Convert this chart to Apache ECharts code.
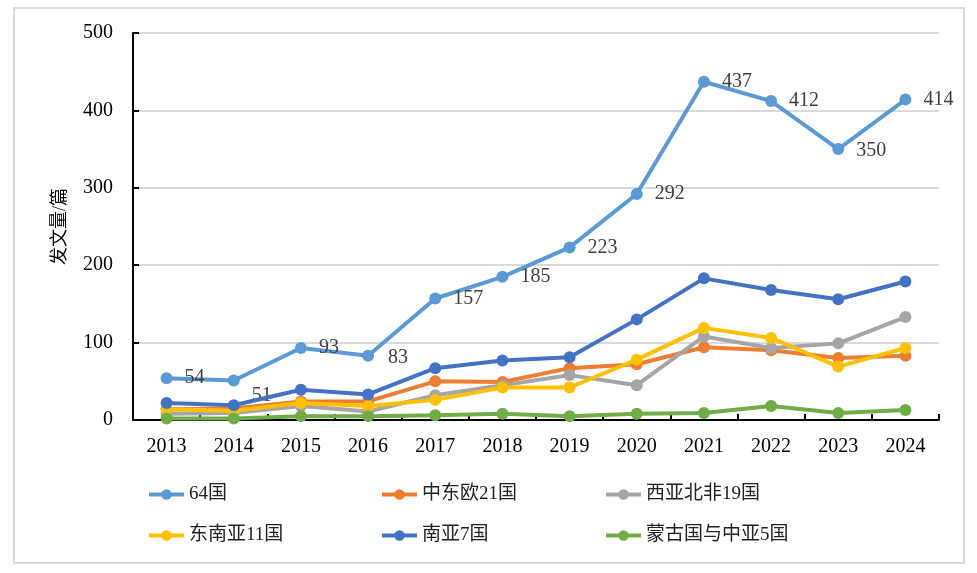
<!DOCTYPE html>
<html><head><meta charset="utf-8">
<script src="https://cdn.jsdelivr.net/npm/echarts@6/dist/echarts.min.js"></script>
<style>html,body{margin:0;padding:0;background:#fff}#c{width:977px;height:573px}</style>
</head><body><div id="c"></div>
<script>
const years = ['2013','2014','2015','2016','2017','2018','2019','2020','2021','2022','2023','2024'];
const s64 = [54, 51, 93, 83, 157, 185, 223, 292, 437, 412, 350, 414];
const sCEE = [14, 15, 24, 24, 50, 49, 67, 72, 94, 90, 80, 83];
const sWANA = [8, 9, 18, 11, 32, 45, 58, 45, 108, 93, 99, 133];
const sSEA = [14, 12, 22, 18, 26, 42, 42, 78, 119, 106, 69, 93];
const sSA = [22, 19, 39, 33, 67, 77, 81, 130, 183, 168, 156, 179];
const sMCA = [2, 2, 5, 5, 6, 8, 5, 8, 9, 18, 9, 13];
const names = ['64国','中东欧21国','西亚北非19国','东南亚11国','南亚7国','蒙古国与中亚5国'];
const colors = ['#5B9BD5','#ED7D31','#A5A5A5','#FFC000','#4472C4','#70AD47'];
const serif = "'Liberation Serif','Times New Roman','Noto Serif CJK SC','Noto Sans CJK SC',serif";
const cjk = "'Liberation Serif','Noto Sans CJK SC',serif";
const all = [s64, sCEE, sWANA, sSEA, sSA, sMCA];
const series = all.map((d, i) => ({
  name: names[i], type: 'line', data: d.slice(), symbol: 'circle', symbolSize: 12,
  lineStyle: {width: 4, color: colors[i]}, itemStyle: {color: colors[i]},
  z: 2 + i,
  label: i === 0 ? {show: true, position: 'right', distance: 12, color: '#404040', fontSize: 20, fontFamily: serif} : {show: false}
}));
series[0].data[1] = {value: s64[1], label: {offset: [0, 15]}};
series[0].data[3] = {value: s64[3], label: {offset: [2, 2]}};
series[0].data[10] = {value: s64[10], label: {offset: [0, 2]}};
const legendBase = {orient: 'vertical', itemWidth: 35, itemHeight: 13, itemGap: 22, padding: 0,
  lineStyle: {width: 4},
  textStyle: {fontSize: 19, fontFamily: cjk, color: '#222'}, top: 485};
const chart = echarts.init(document.getElementById('c'));
chart.setOption({
  animation: false,
  grid: {left: 133, right: 38, top: 33, bottom: 153},
  graphic: [{type: 'rect', shape: {x: 14, y: 8, width: 950, height: 555}, style: {fill: 'none', stroke: '#d9d9d9', lineWidth: 2}, silent: true}],
  legend: [
    Object.assign({}, legendBase, {left: 147, data: [names[0], names[3]]}),
    Object.assign({}, legendBase, {left: 380, data: [names[1], names[4]]}),
    Object.assign({}, legendBase, {left: 604, data: [names[2], names[5]]})
  ],
  xAxis: {type: 'category', data: years, boundaryGap: true,
    axisLine: {lineStyle: {color: '#000', width: 2}},
    axisTick: {show: true, inside: true, length: 6, lineStyle: {color: '#000', width: 2}},
    axisLabel: {color: '#000', fontSize: 20, fontFamily: serif, margin: 17}},
  yAxis: {type: 'value', min: 0, max: 500, interval: 100,
    name: '发文量/篇', nameLocation: 'middle', nameGap: 64, nameRotate: 90,
    nameTextStyle: {fontSize: 18, fontFamily: cjk, color: '#000'},
    axisLine: {show: true, lineStyle: {color: '#000', width: 2}},
    axisTick: {show: true, inside: true, length: 6, lineStyle: {color: '#000', width: 2}},
    axisLabel: {color: '#000', fontSize: 20, fontFamily: serif, margin: 20},
    splitLine: {lineStyle: {color: '#d9d9d9', width: 2}}},
  series: series
});
</script></body></html>
